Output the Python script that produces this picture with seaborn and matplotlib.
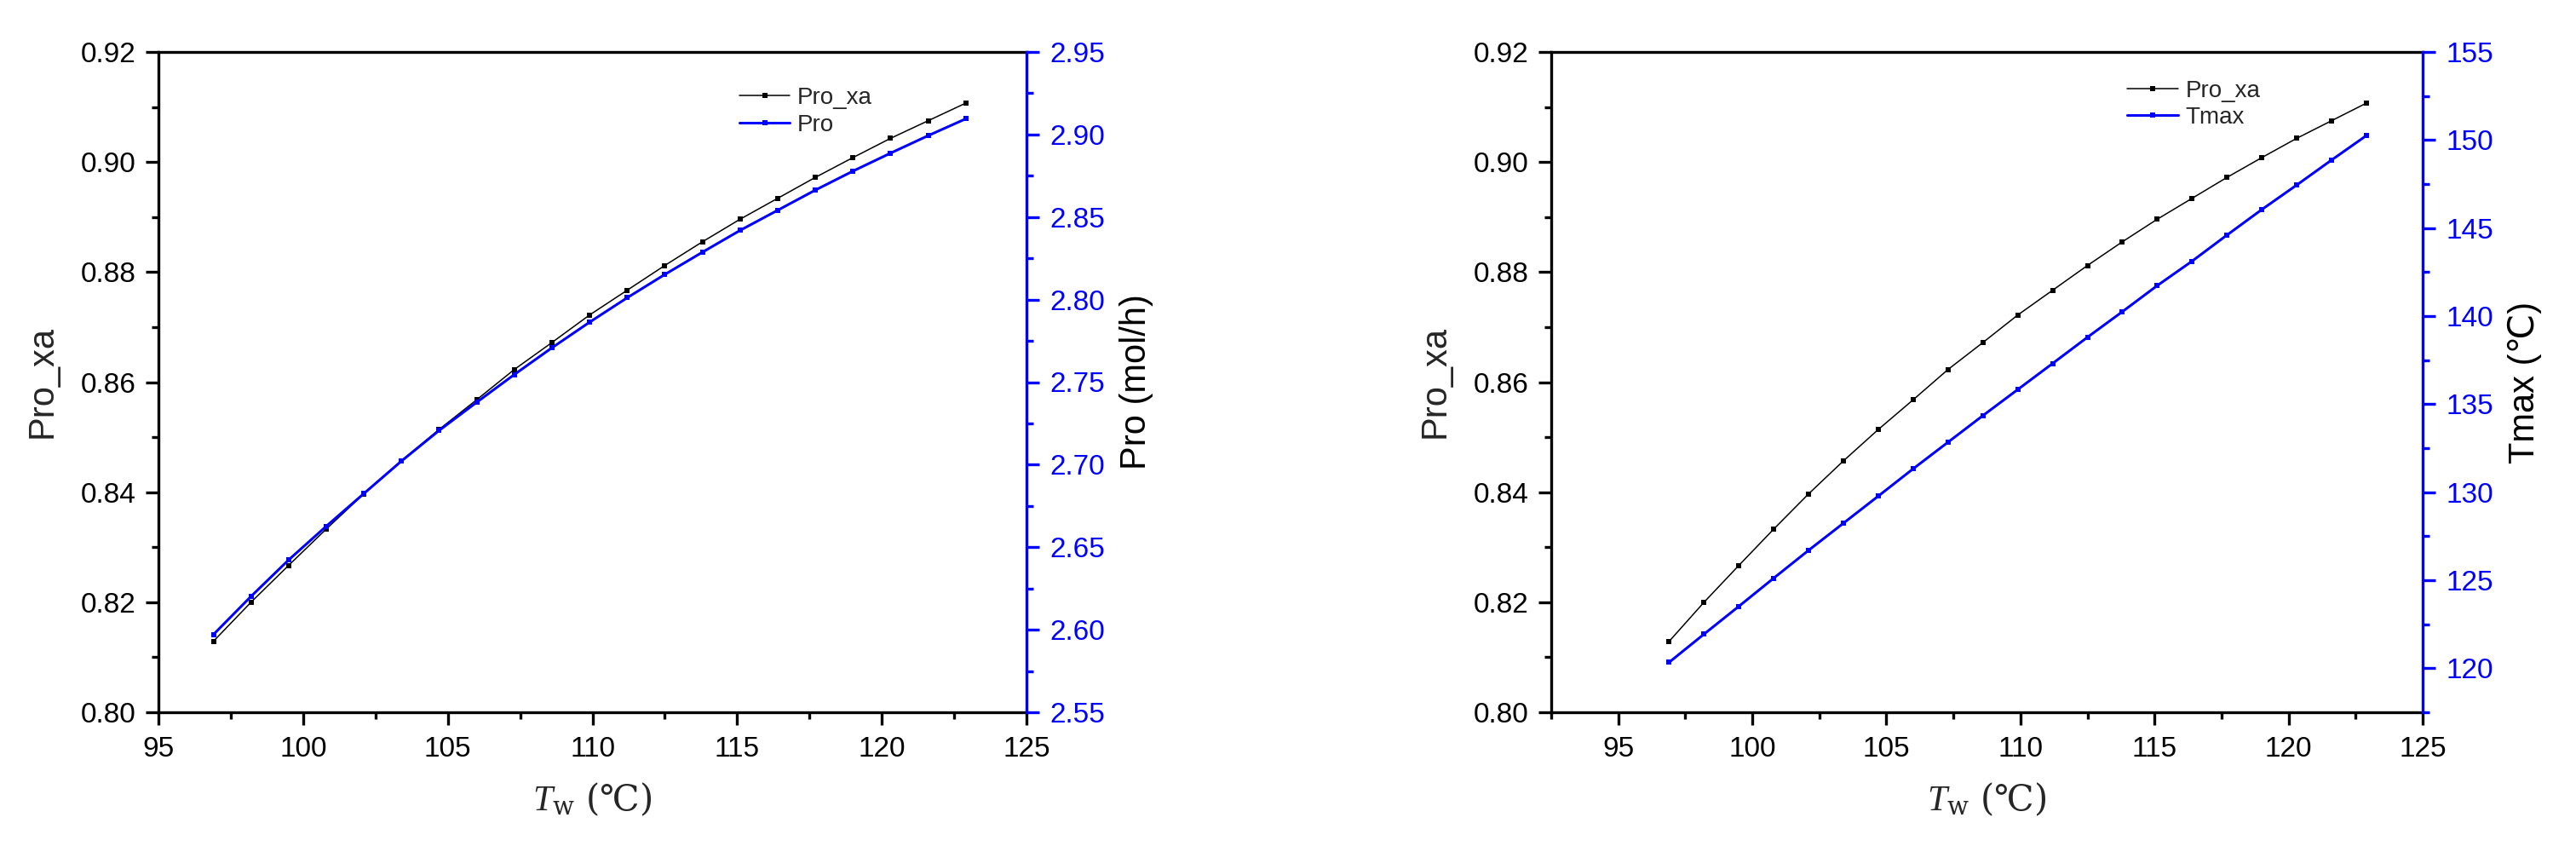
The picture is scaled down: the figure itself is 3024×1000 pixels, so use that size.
import numpy as np
import pandas as pd
import matplotlib
matplotlib.use('Agg')
import matplotlib.pyplot as plt
from matplotlib.ticker import MultipleLocator, FormatStrFormatter
import seaborn as sns

# data
tw = [96.9, 98.2, 99.5, 100.8, 102.1, 103.4, 104.7, 106.0, 107.3, 108.6, 109.9,
      111.2, 112.5, 113.8, 115.1, 116.4, 117.7, 119.0, 120.3, 121.6, 122.9]
pro_xa = [0.8129, 0.8200, 0.8267, 0.8333, 0.8397, 0.8457, 0.8514, 0.8568, 0.8623,
          0.8672, 0.8722, 0.8767, 0.8812, 0.8855, 0.8896, 0.8934, 0.8972, 0.9008,
          0.9043, 0.9075, 0.9107]
pro = [2.5971, 2.6202, 2.6423, 2.6627, 2.6825, 2.7022, 2.7207, 2.7378, 2.7546,
       2.7708, 2.7863, 2.8011, 2.8152, 2.8287, 2.8419, 2.8541, 2.8663, 2.8778,
       2.8887, 2.8993, 2.9095]
tmax = [120.34, 121.94, 123.52, 125.12, 126.70, 128.24, 129.78, 131.33, 132.84,
        134.35, 135.83, 137.31, 138.80, 140.25, 141.73, 143.12, 144.60, 146.05,
        147.44, 148.86, 150.25]

df = pd.DataFrame({'Tw': tw, 'Pro_xa': pro_xa, 'Pro': pro, 'Tmax': tmax})

sns.set_style('ticks')
plt.rcParams['font.family'] = ['Liberation Sans', 'DejaVu Sans']
plt.rcParams['mathtext.fontset'] = 'custom'
plt.rcParams['mathtext.rm'] = 'DejaVu Serif'
plt.rcParams['mathtext.it'] = 'Liberation Serif:italic'

BLUE = '#0000FF'
SW = 2.4

fig = plt.figure(figsize=(30.24, 10), dpi=100)
ax1 = fig.add_axes([186 / 3024, 0.164, 1019 / 3024, 0.775])
ax3 = fig.add_axes([1821 / 3024, 0.164, 1023 / 3024, 0.775])


def style_main(ax, xlim):
    ax.set_xlim(*xlim)
    ax.set_ylim(0.80, 0.92)
    ax.xaxis.set_major_locator(MultipleLocator(5))
    ax.xaxis.set_minor_locator(MultipleLocator(2.5))
    ax.yaxis.set_major_locator(MultipleLocator(0.02))
    ax.yaxis.set_minor_locator(MultipleLocator(0.01))
    ax.yaxis.set_major_formatter(FormatStrFormatter('%.2f'))
    for s in ['left', 'bottom', 'top']:
        ax.spines[s].set_linewidth(SW)
        ax.spines[s].set_color('black')
    ax.spines['right'].set_visible(False)
    ax.tick_params(which='both', direction='out', top=False, right=False,
                   width=SW, colors='black', labelsize=24)
    ax.tick_params(which='major', length=11)
    ax.tick_params(which='minor', length=6)
    ax.tick_params(axis='y', which='major', pad=8)
    ax.tick_params(axis='x', which='major', pad=9)
    # non-math part of a mathtext label uses the label's own single font
    ax.set_xlabel(r'$T_\mathrm{w}$ (℃)', fontsize=30, labelpad=16,
                  family='DejaVu Serif')
    ax.set_ylabel('Pro_xa', fontsize=30, labelpad=18)


def style_twin(ax, ylim, major, minor, fmt, label):
    ax.set_ylim(*ylim)
    ax.yaxis.set_major_locator(MultipleLocator(major))
    ax.yaxis.set_minor_locator(MultipleLocator(minor))
    ax.yaxis.set_major_formatter(FormatStrFormatter(fmt))
    for s in ['left', 'bottom', 'top']:
        ax.spines[s].set_visible(False)
    ax.spines['right'].set_linewidth(SW)
    ax.spines['right'].set_color(BLUE)
    ax.tick_params(which='both', direction='out', width=SW, color=BLUE,
                   labelcolor=BLUE, labelsize=24, pad=9)
    ax.tick_params(which='major', length=11)
    ax.tick_params(which='minor', length=6)
    ax.set_ylabel(label, fontsize=30, labelpad=12, color='black')


# left panel
sns.lineplot(data=df, x='Tw', y='Pro_xa', ax=ax1, color='black', lw=1.1,
             marker='s', markersize=3.8, markeredgewidth=0, label='Pro_xa')
ax2 = ax1.twinx()
sns.lineplot(data=df, x='Tw', y='Pro', ax=ax2, color=BLUE, lw=2.2,
             marker='s', markersize=4.5, markeredgewidth=0, label='Pro')
style_main(ax1, (95, 125))
style_twin(ax2, (2.55, 2.95), 0.05, 0.025, '%.2f', 'Pro (mol/h)')

# right panel
sns.lineplot(data=df, x='Tw', y='Pro_xa', ax=ax3, color='black', lw=1.1,
             marker='s', markersize=3.8, markeredgewidth=0, label='Pro_xa')
ax4 = ax3.twinx()
sns.lineplot(data=df, x='Tw', y='Tmax', ax=ax4, color=BLUE, lw=2.2,
             marker='s', markersize=4.5, markeredgewidth=0, label='Tmax')
style_main(ax3, (92.5, 125))
style_twin(ax4, (117.5, 155), 5, 2.5, '%d', 'Tmax (℃)')

for a, b, pos in [(ax1, ax2, (0.669, 0.947)), (ax3, ax4, (0.661, 0.958))]:
    h1, l1 = a.get_legend_handles_labels()
    h2, l2 = b.get_legend_handles_labels()
    if a.get_legend():
        a.get_legend().remove()
    if b.get_legend():
        b.get_legend().remove()
    b.legend(h1 + h2, l1 + l2, loc='upper left', bbox_to_anchor=pos,
             frameon=False, fontsize=20, handlelength=2.15, handletextpad=0.3,
             labelspacing=0.2, borderpad=0, borderaxespad=0)

fig.savefig('out.png', dpi=100)
